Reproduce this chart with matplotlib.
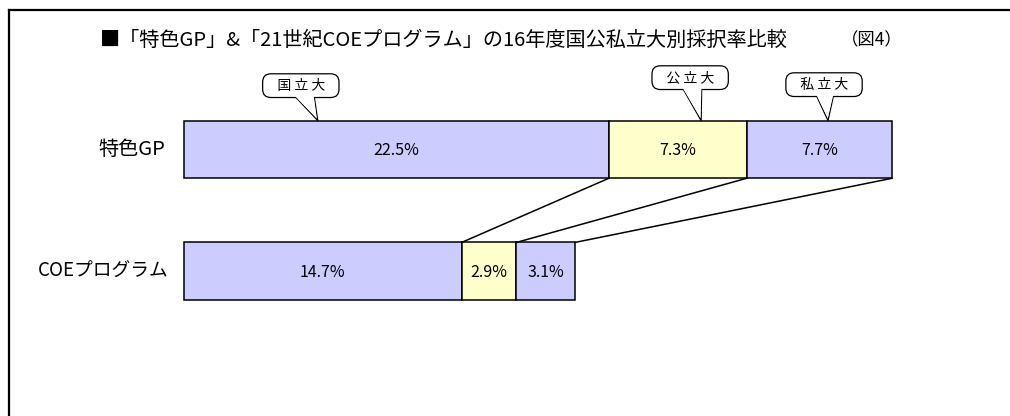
import numpy as np
import matplotlib
matplotlib.use("Agg")
import matplotlib.pyplot as plt
from matplotlib.lines import Line2D

plt.rcParams['font.family'] = ['Noto Sans CJK JP', 'DejaVu Sans']

# data
categories = ['特色GP', 'COEプログラム']
groups = ['国立大', '公立大', '私立大']
gp_rates = [22.5, 7.3, 7.7]
coe_rates = [14.7, 2.9, 3.1]
title = '■「特色GP」&「21世紀COEプログラム」の16年度国公私立大別採択率比較'
fig_no = '（図4）'

colors = ['#ccccff', '#ffffcc', '#ccccff']

fig = plt.figure(figsize=(10.1, 4.16), dpi=100)
ax = fig.add_axes([0, 0, 1, 1])
ax.set_xlim(-9.746, 43.75)
ax.set_ylim(-1.188, 2.227)
ax.axis('off')

ypos = [1, 0]
h = 0.473
for y, rates in zip(ypos, [gp_rates, coe_rates]):
    left = 0
    for r, c in zip(rates, colors):
        ax.barh(y, r, left=left, height=h, color=c, edgecolor='black', linewidth=1.1)
        ax.text(left + r / 2, y - 0.01, f'{r}%', ha='center', va='center', fontsize=11.5)
        left += r

# category labels
ax.text(-2.75, 1, categories[0], ha='center', va='center', fontsize=14.5)
ax.text(-4.26, 0, categories[1], ha='center', va='center', fontsize=13.5)

# connector lines between the bars
top_edges = np.cumsum(gp_rates)
bot_edges = np.cumsum(coe_rates)
for a, b in zip(top_edges, bot_edges):
    ax.plot([a, b], [1 - h / 2, h / 2], color='black', linewidth=1.1)

# callouts (speech bubbles pointing at the top bar)
tip_frac = [0.315, 0.67, 0.56]
offsets = [(-17, 35), (-11, 43), (-4, 36)]
starts = np.concatenate([[0], top_edges[:-1]])
for g, s, r, f, off in zip(groups, starts, gp_rates, tip_frac, offsets):
    tip = (s + r * f, 1 + h / 2)
    label = '   ' + ' '.join(g) + '   '
    wedge = 'wedge,tail_width=1.75,shrink_factor=0.5'
    ax.annotate('', xy=tip, xytext=off, textcoords='offset pixels',
                arrowprops=dict(arrowstyle=wedge, fc='white', ec='black', lw=0.9,
                                shrinkA=0, shrinkB=0), zorder=5)
    ax.annotate(label, xy=tip, xytext=off, textcoords='offset pixels',
                ha='center', va='center', fontsize=10, color='none',
                bbox=dict(boxstyle='round,pad=0.35,rounding_size=0.6', fc='white', ec='black', lw=0.9),
                zorder=6)
    ax.annotate('', xy=tip, xytext=off, textcoords='offset pixels',
                arrowprops=dict(arrowstyle=wedge, fc='white', ec='none', lw=0,
                                shrinkA=0, shrinkB=2), zorder=7)
    ax.annotate(label, xy=tip, xytext=off, textcoords='offset pixels',
                ha='center', va='center', fontsize=10, zorder=8)

# title
fig.text(100 / 1010, 1 - 40 / 416, title, ha='left', va='center', fontsize=14.5)
fig.text(872 / 1010, 1 - 40 / 416, fig_no, ha='center', va='center', fontsize=12.5)

# frame (top and left edges only)
fig.add_artist(Line2D([9 / 1010, 1], [1 - 10 / 416, 1 - 10 / 416], color='black', linewidth=1.6))
fig.add_artist(Line2D([9 / 1010, 9 / 1010], [0, 1 - 10 / 416], color='black', linewidth=1.6))

fig.savefig('out.png', dpi=100)
